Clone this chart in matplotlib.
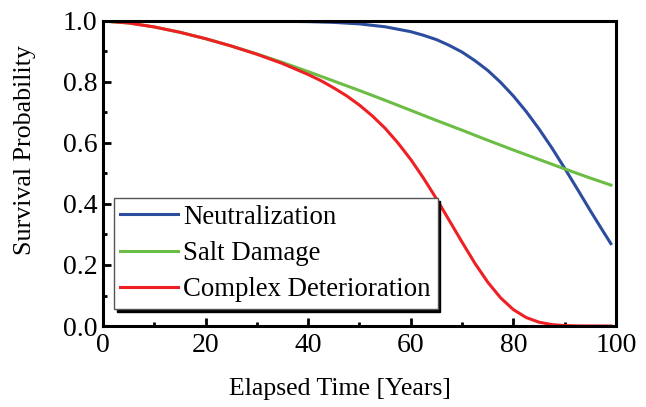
import matplotlib
matplotlib.use("Agg")
import matplotlib.pyplot as plt
from matplotlib.ticker import MultipleLocator

plt.rcParams['font.family'] = ['Liberation Serif', 'DejaVu Serif']

# --- data ---
t_neu = [0, 10, 20, 30, 40, 45, 50, 55, 60, 62.5, 65, 67.5, 70, 72.5, 75, 77.5,
         80, 82.5, 85, 87.5, 90, 92.5, 95, 97.5, 99]
s_neu = [1.0, 1.0, 1.0, 1.0, 0.998, 0.9955, 0.9905, 0.981, 0.965, 0.953, 0.939, 0.920,
         0.898, 0.870, 0.838, 0.799, 0.754, 0.703, 0.646, 0.584, 0.517, 0.448, 0.378,
         0.310, 0.270]

t_salt = [0, 5, 10, 15, 20, 25, 30, 35, 40, 45, 50, 55, 60, 65, 70, 75, 80, 85,
          90, 95, 99]
s_salt = [1.0, 0.9935, 0.9805, 0.963, 0.942, 0.918, 0.892, 0.864, 0.834, 0.803,
          0.772, 0.740, 0.707, 0.674, 0.642, 0.609, 0.577, 0.546, 0.515, 0.485, 0.462]

t_comp = [0, 5, 10, 15, 20, 25, 30, 35, 40, 42.5, 45, 47.5, 50, 52.5, 55, 57.5,
          60, 62.5, 65, 67.5, 70, 72.5, 75, 77.5, 80, 82.5, 85, 87.5, 90, 92.5,
          95, 99]
s_comp = [1.0, 0.9935, 0.9805, 0.963, 0.942, 0.918, 0.891, 0.8605, 0.8245, 0.8042,
          0.7805, 0.7546, 0.7241, 0.6888, 0.6482, 0.6000, 0.5458, 0.4841, 0.4172,
          0.346, 0.2748, 0.2055, 0.1437, 0.0924, 0.0537, 0.0277, 0.0124, 0.0047,
          0.0014, 0.0004, 0.0001, 0.0]

labels = ["Neutralization", "Salt Damage", "Complex Deterioration"]
colors = ["#2c4c9e", "#6cbd45", "#ee2024"]

fig = plt.figure(figsize=(6.46, 4.07), dpi=100)
ax = fig.add_axes([103/646, 1-326/407, (616-103)/646, (326-21)/407])

ax.plot(t_neu, s_neu, color=colors[0], lw=2.2, label=labels[0])
ax.plot(t_salt, s_salt, color=colors[1], lw=2.2, label=labels[1])
ax.plot(t_comp, s_comp, color=colors[2], lw=2.2, label=labels[2])

ax.set_xlim(0, 100)
ax.set_ylim(0, 1.0)
ax.xaxis.set_major_locator(MultipleLocator(20))
ax.xaxis.set_minor_locator(MultipleLocator(10))
ax.yaxis.set_major_locator(MultipleLocator(0.2))
ax.yaxis.set_minor_locator(MultipleLocator(0.1))
ax.yaxis.set_major_formatter(matplotlib.ticker.FormatStrFormatter('%.1f'))

for s in ax.spines.values():
    s.set_linewidth(2.2)
ax.tick_params(which='both', direction='in', top=False, right=False,
               labelsize=20)
ax.tick_params(axis='x', which='both', pad=5)
ax.tick_params(axis='y', which='both', pad=4)
ax.tick_params(which='major', length=6, width=2)
ax.tick_params(which='minor', length=3, width=2)

ax.set_xlabel("Elapsed Time [Years]", fontsize=18.5, va='center', ha='center')
ax.xaxis.set_label_coords(0.462, -0.207)
ax.set_ylabel("Survival Probability", fontsize=18.7, va='center', ha='center')
ax.yaxis.set_label_coords(-0.152, 0.577)

leg = ax.legend(loc='lower left', bbox_to_anchor=(0.021, 0.056), borderaxespad=0,
                fontsize=19.3, frameon=True, fancybox=False, framealpha=1,
                edgecolor='#555555', handlelength=2.15, handletextpad=0.2,
                borderpad=0.25, labelspacing=0.42,
                shadow={'color': 'black', 'alpha': 1})
leg.get_frame().set_linewidth(1.0)

fig.savefig("out.png", dpi=100)
